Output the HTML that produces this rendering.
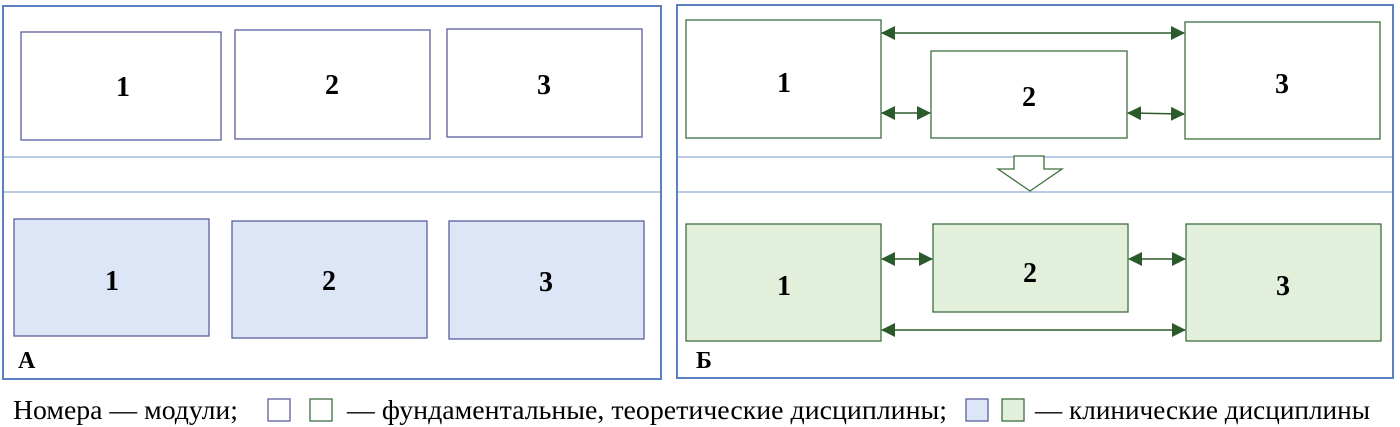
<!DOCTYPE html>
<html><head><meta charset="utf-8"><style>html,body{margin:0;padding:0;background:#fff;width:1400px;height:427px;overflow:hidden}text{font-family:"Liberation Serif","Times New Roman",serif}</style></head><body>
<svg width="1400" height="427" xmlns="http://www.w3.org/2000/svg">
<defs>
<marker id="ah" markerWidth="14" markerHeight="14" refX="13" refY="7" orient="auto-start-reverse" markerUnits="userSpaceOnUse"><path d="M0,0 L14,7 L0,14 z" fill="#2b5a2b"/></marker>
</defs>
<g fill="none" stroke="#5b7fc0" stroke-width="2">
<rect x="3" y="6" width="658" height="373"/>
<rect x="677" y="5" width="716" height="373"/>
</g>
<g stroke="#8fa9d6" stroke-width="1.3">
<line x1="4" y1="157" x2="660" y2="157"/><line x1="4" y1="192" x2="660" y2="192"/>
<line x1="678" y1="157" x2="1392" y2="157"/><line x1="678" y1="192" x2="1392" y2="192"/>
</g>
<g stroke="#5a5fa0" stroke-width="1.3" fill="#fff">
<rect x="21" y="32" width="200" height="108"/>
<rect x="235" y="30" width="195" height="109"/>
<rect x="447" y="29" width="195" height="108"/>
</g>
<g stroke="#5a5fa0" stroke-width="1.3" fill="#dce6f6">
<rect x="14" y="219" width="195" height="117"/>
<rect x="232" y="221" width="195" height="117"/>
<rect x="449" y="221" width="195" height="118"/>
</g>
<g stroke="#3f6e3f" stroke-width="1.3" fill="#fff">
<rect x="686" y="20" width="195" height="118"/>
<rect x="931" y="51" width="196" height="87"/>
<rect x="1185" y="22" width="195" height="117"/>
</g>
<g stroke="#3f6e3f" stroke-width="1.3" fill="#e2efda">
<rect x="686" y="224" width="195" height="117"/>
<rect x="933" y="224" width="195" height="88"/>
<rect x="1186" y="224" width="195" height="117"/>
</g>
<g stroke="#2b5a2b" stroke-width="1.5" marker-start="url(#ah)" marker-end="url(#ah)">
<line x1="882" y1="33" x2="1184" y2="33"/>
<line x1="882" y1="113" x2="930" y2="113"/>
<line x1="1128" y1="113" x2="1184" y2="114"/>
<line x1="882" y1="259" x2="932" y2="259"/>
<line x1="1129" y1="259" x2="1185" y2="259"/>
<line x1="882" y1="330" x2="1185" y2="330"/>
</g>
<path d="M1014,156 L1044,156 L1044,169 L1062,169 L1030,191 L998,169 L1014,169 Z" fill="#fff" stroke="#3f6e3f" stroke-width="1.3"/>
<g font-weight="bold" font-size="28" text-anchor="middle">
<text x="123" y="96">1</text><text x="332" y="94">2</text><text x="544" y="94">3</text>
<text x="112" y="290">1</text><text x="329" y="290">2</text><text x="546" y="291">3</text>
<text x="784" y="92">1</text><text x="1029" y="106">2</text><text x="1282" y="93">3</text>
<text x="784" y="295">1</text><text x="1030" y="282">2</text><text x="1283" y="295">3</text>
</g>
<text x="18" y="368" font-weight="bold" font-size="24">А</text>
<text x="696" y="368" font-weight="bold" font-size="24">Б</text>
<g font-size="27">
<text x="13" y="419" textLength="225" lengthAdjust="spacingAndGlyphs">Номера — модули;</text>
<text x="347" y="419" textLength="600" lengthAdjust="spacingAndGlyphs">— фундаментальные, теоретические дисциплины;</text>
<text x="1035" y="419" textLength="335" lengthAdjust="spacingAndGlyphs">— клинические дисциплины</text>
</g>
<rect x="268" y="399" width="22" height="22" fill="#fff" stroke="#5a5fa0" stroke-width="1.3"/>
<rect x="310" y="399" width="22" height="22" fill="#fff" stroke="#3f6e3f" stroke-width="1.3"/>
<rect x="966" y="399" width="22" height="22" fill="#dce6f6" stroke="#5a5fa0" stroke-width="1.3"/>
<rect x="1002" y="399" width="22" height="22" fill="#e2efda" stroke="#3f6e3f" stroke-width="1.3"/>
</svg>
</body></html>
